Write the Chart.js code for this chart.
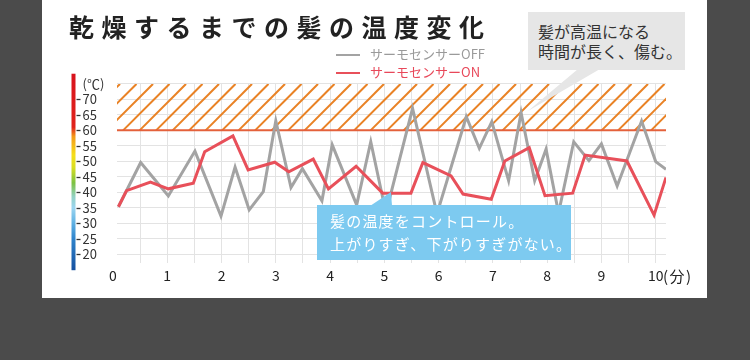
<!DOCTYPE html>
<html>
<head>
<meta charset="utf-8">
<script src="https://cdn.jsdelivr.net/npm/chart.js@4.4.1/dist/chart.umd.min.js"></script>
<style>
  body { margin: 0; width: 750px; height: 360px; overflow: hidden; background: #4b4b4b; font-family: "Noto Sans CJK JP", sans-serif; }
  #panel { position: absolute; left: 42px; top: 0; width: 665px; height: 298px; background: #fff; }
  #chart { position: absolute; left: 0; top: 0; }
  h1 { position: absolute; left: 69px; top: 8px; margin: 0; font-size: 25px; line-height: 36px; font-weight: 700; letter-spacing: 7.5px; color: #222; white-space: nowrap; }
  #legend { position: absolute; left: 336px; top: 45px; font-size: 13px; line-height: 17.5px; }
  #legend .item { white-space: nowrap; }
  #legend .swatch { display: inline-block; width: 24px; height: 2px; vertical-align: middle; margin-right: 10px; }
  .note { position: absolute; box-sizing: border-box; white-space: nowrap; }
  #noteHot { left: 528px; top: 12px; width: 157px; height: 58px; background: #e6e6e6; color: #333; font-size: 16px; line-height: 20px; padding: 8.5px 0 0 10px; }
  #noteCtrl { left: 317px; top: 205px; width: 254px; height: 55px; background: #7dcaf0; color: #fff; font-size: 15px; letter-spacing: 1.2px; line-height: 23px; padding: 4px 0 0 13px; }
  #tails { position: absolute; left: 0; top: 0; }
  #unitX { position: absolute; left: 663px; top: 266px; font-size: 15px; line-height: 20px; letter-spacing: 1.5px; color: #222; }
</style>
</head>
<body>
<div id="panel"></div>
<canvas id="chart" width="750" height="300"></canvas>
<h1>乾燥するまでの髪の温度変化</h1>
<div id="legend"></div>
<svg id="tails" width="750" height="300">
  <polygon points="578,69 600,69 528,111" fill="#e6e6e6"/>
  <polygon points="370,206 392,206 391,192" fill="#7dcaf0"/>
</svg>
<div class="note" id="noteHot">髪が高温になる<br>時間が長く、傷む。</div>
<div class="note" id="noteCtrl">髪の温度をコントロール。<br>上がりすぎ、下がりすぎがない。</div>
<div id="unitX">(分)</div>
<script>
// series (minutes / ℃)
const seriesNames = ["サーモセンサーOFF", "サーモセンサーON"];
const offMinutes = [0.10, 0.51, 1.02, 1.51, 1.99, 2.25, 2.51, 2.77, 3.00, 3.28, 3.49, 3.85, 4.04, 4.49, 4.75, 5.03, 5.52, 5.97, 6.51, 6.75, 6.98, 7.29, 7.52, 7.77, 7.98, 8.21, 8.49, 8.77, 9.00, 9.29, 9.74, 10.00, 10.19];
const offTemps = [35.3, 49.6, 38.8, 53.3, 32.3, 48.1, 34.3, 40.2, 63.1, 41.5, 47.6, 37.2, 55.3, 35.9, 56.3, 33.3, 67.1, 33.0, 64.4, 54.2, 62.8, 43.7, 65.7, 43.7, 53.9, 33.3, 56.3, 50.2, 55.6, 42.0, 63.0, 49.9, 47.4];
const onMinutes = [0.10, 0.25, 0.69, 1.02, 1.48, 1.69, 2.21, 2.49, 2.98, 3.24, 3.69, 3.97, 4.48, 4.97, 5.49, 5.71, 6.23, 6.45, 6.97, 7.22, 7.67, 7.96, 8.47, 8.70, 9.47, 9.97, 10.19];
const onTemps = [35.3, 40.5, 43.3, 41.1, 42.9, 53.1, 58.2, 47.2, 49.7, 46.6, 50.7, 41.1, 48.4, 39.7, 39.7, 49.6, 45.3, 39.4, 37.7, 50.1, 54.4, 38.9, 39.7, 52.0, 50.1, 32.6, 44.8];

// axes
const xGridMinutes = [0, 0.5, 1, 1.5, 2, 2.5, 3, 3.5, 4, 4.5, 5, 5.5, 6, 6.5, 7, 7.5, 8, 8.5, 9, 9.5, 10];
const xTickLabels = ["0", "1", "2", "3", "4", "5", "6", "7", "8", "9", "10"];
const yTickValues = [20, 25, 30, 35, 40, 45, 50, 55, 60, 65, 70];
const yUnitAt = 75;
const yUnit = "(℃)";
const dangerFrom = 60;
const dangerTo = 75;

const font = "'Noto Sans CJK JP', sans-serif";
const redColor = "#e8505a";
const grayColor = "#a3a3a3";

function toPoints(xs, ys) {
    return xs.map((x, i) => ({ x: x, y: ys[i] }));
}

// hatched "too hot" band, the 60℃ line, the colour bar and y tick dashes
const decor = {
    id: "decor",
    beforeDatasetsDraw(chart) {
        const { ctx, chartArea: a, scales: { y } } = chart;
        const yLow = y.getPixelForValue(dangerFrom);
        const yHigh = y.getPixelForValue(dangerTo);
        const h = yLow - yHigh;
        ctx.save();
        ctx.beginPath();
        ctx.rect(a.left, yHigh, a.right - a.left, h);
        ctx.clip();
        ctx.strokeStyle = "#e98225";
        ctx.lineWidth = 2;
        for (let x = a.left + 3 - h - 16.5 * 4; x < a.right + 20; x += 16.5) {
            ctx.beginPath();
            ctx.moveTo(x, yLow);
            ctx.lineTo(x + h, yHigh);
            ctx.stroke();
        }
        ctx.restore();
        ctx.save();
        ctx.strokeStyle = "#e4613b";
        ctx.lineWidth = 2;
        ctx.beginPath();
        ctx.moveTo(a.left, yLow);
        ctx.lineTo(a.right, yLow);
        ctx.stroke();
        ctx.restore();
    },
    afterDraw(chart) {
        const { ctx, scales: { y } } = chart;
        const top = y.getPixelForValue(78.3);
        const bottom = y.getPixelForValue(14.8);
        const g = ctx.createLinearGradient(0, top, 0, bottom);
        const stops = [[78.3, "#d8131d"], [61, "#e0231c"], [58, "#f39a1a"], [52, "#f5df1b"], [48, "#d9de22"], [43, "#7cc242"], [38.5, "#93d2c6"], [35, "#9bd5f0"], [30, "#5fb1e3"], [25, "#2f84cc"], [14.8, "#15509f"]];
        stops.forEach(([v, c]) => g.addColorStop((y.getPixelForValue(v) - top) / (bottom - top), c));
        ctx.save();
        ctx.fillStyle = g;
        ctx.fillRect(71.5, top, 4, bottom - top);
        ctx.strokeStyle = "#333";
        ctx.lineWidth = 1.3;
        yTickValues.forEach((v) => {
            const py = Math.round(y.getPixelForValue(v)) + 0.5;
            ctx.beginPath();
            ctx.moveTo(76.5, py);
            ctx.lineTo(80.5, py);
            ctx.stroke();
        });
        ctx.restore();
    },
};

const chart = new Chart(document.getElementById("chart"), {
    type: "line",
    data: {
        datasets: [
            {
                label: seriesNames[0],
                data: toPoints(offMinutes, offTemps),
                borderColor: grayColor,
                borderWidth: 3,
                pointRadius: 0,
                tension: 0,
                order: 2,
            },
            {
                label: seriesNames[1],
                data: toPoints(onMinutes, onTemps),
                borderColor: redColor,
                borderWidth: 3,
                pointRadius: 0,
                tension: 0,
                order: 1,
            },
        ],
    },
    options: {
        responsive: false,
        animation: false,
        layout: { padding: { left: 82.5, right: 84, top: 83, bottom: 0 } },
        plugins: {
            legend: { display: false },
            tooltip: { enabled: false },
        },
        scales: {
            x: {
                type: "linear",
                min: 0.074,
                max: 10.19,
                afterBuildTicks: (s) => { s.ticks = xGridMinutes.map((v) => ({ value: v })); },
                afterFit: (s) => { s.height = 36.6; },
                border: { display: false },
                grid: {
                    drawTicks: false,
                    color: (c) => (c.tick && c.tick.value === 0 ? "rgba(0,0,0,0)" : "#e3e3e3"),
                },
                ticks: {
                    autoSkip: false,
                    maxRotation: 0,
                    padding: 4,
                    color: "#222",
                    font: { family: font, size: 14 },
                    callback: (v) => (Number.isInteger(v) ? xTickLabels[v] : ""),
                },
            },
            y: {
                min: 17,
                max: 75.3,
                afterBuildTicks: (s) => { s.ticks = yTickValues.concat([yUnitAt]).map((v) => ({ value: v })); },
                afterFit: (s) => { s.width = 34.5; },
                border: { display: false },
                grid: { drawTicks: false, color: "#e3e3e3" },
                ticks: {
                    autoSkip: false,
                    crossAlign: "far",
                    color: "#333",
                    font: { family: font, size: 13 },
                    callback: (v) => (v === yUnitAt ? yUnit : String(v)),
                },
            },
        },
    },
    plugins: [decor],
});

// legend, built from the datasets
const legend = document.getElementById("legend");
chart.data.datasets.forEach((ds) => {
    const item = document.createElement("div");
    item.className = "item";
    item.style.color = ds.borderColor === redColor ? "#e8485a" : "#9a9a9a";
    item.innerHTML = '<span class="swatch" style="background:' + ds.borderColor + '"></span>' + ds.label;
    legend.appendChild(item);
});
</script>
</body>
</html>
